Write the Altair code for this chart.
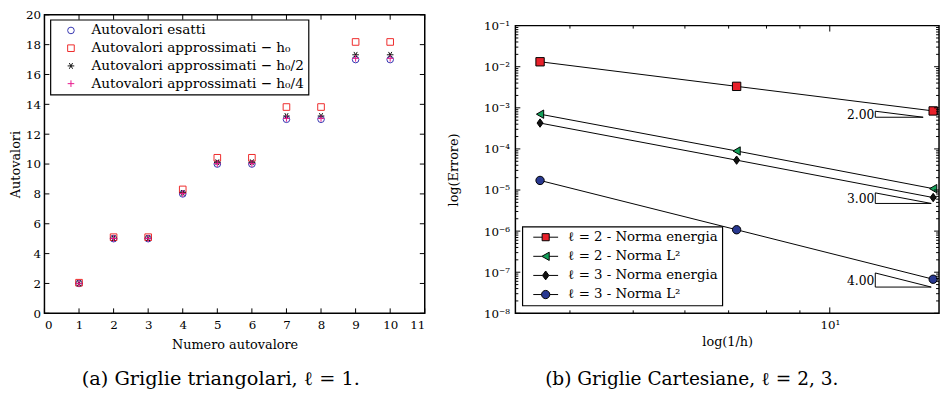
import altair as alt
import pandas as pd

FONT = "DejaVu Serif"

# ---------------- panel (a): Griglie triangolari ----------------
numero_autovalore = [1, 2, 3, 4, 5, 6, 7, 8, 9, 10]
autovalori_esatti = [2, 5, 5, 8, 10, 10, 13, 13, 17, 17]
approx_h0 = [2.05, 5.1, 5.1, 8.3, 10.42, 10.42, 13.82, 13.82, 18.18, 18.18]
approx_h0_2 = [2.01, 5.03, 5.03, 8.07, 10.12, 10.12, 13.22, 13.22, 17.32, 17.32]
approx_h0_4 = [2.0, 5.01, 5.01, 8.02, 10.03, 10.03, 13.06, 13.06, 17.08, 17.08]
serie_a = [
    "Autovalori esatti",
    "Autovalori approssimati − h₀",
    "Autovalori approssimati − h₀/2",
    "Autovalori approssimati − h₀/4",
]
colori_a = ["#3535b0", "#ee2a2a", "#111111", "#e8188c"]
ASTERISCO = "M-1,0L1,0M-0.5,-0.87L0.5,0.87M-0.5,0.87L0.5,-0.87"
PIU = "M-1,0L1,0M0,-1L0,1"
forme_a = ["circle", "square", ASTERISCO, PIU]
ticks_a_x = list(range(0, 12))
ticks_a_y = list(range(0, 21, 2))

# ---------------- panel (b): Griglie Cartesiane ----------------
inv_h = [3.6, 7.2, 14.4]
err_l2_energia = [1.32e-2, 3.33e-3, 8.4e-4]
err_l2_L2 = [7.0e-4, 8.9e-5, 1.08e-5]
err_l3_energia = [4.26e-4, 5.33e-5, 6.56e-6]
err_l3_L2 = [1.71e-5, 1.08e-6, 6.75e-8]
serie_b = [
    "ℓ = 2 - Norma energia",
    "ℓ = 2 - Norma L²",
    "ℓ = 3 - Norma energia",
    "ℓ = 3 - Norma L²",
]
colori_b = ["#e8202a", "#14a05a", "#111111", "#283890"]
forme_b = ["square", "triangle-left", "M0,-1L0.72,0L0,1L-0.72,0Z", "circle"]
legenda_b = [
    "M-2.1,0L-0.6,0M0.6,0L2.1,0M-0.6,-0.6L0.6,-0.6L0.6,0.6L-0.6,0.6Z",
    "M-2.1,0L-0.65,0M0.6,0L2.1,0M-0.65,0L0.6,-0.7L0.6,0.7Z",
    "M-2.1,0L-0.55,0M0.55,0L2.1,0M0,-0.75L0.55,0L0,0.75L-0.55,0Z",
    "M-2.1,0L-0.7,0M0.7,0L2.1,0M-0.7,0A0.7,0.7 0 1,0 0.7,0A0.7,0.7 0 1,0 -0.7,0Z",
]
pendenze = ["2.00", "3.00", "4.00"]
ordini = [2, 3, 4]
tri_x_sx = [11.74, 11.74, 11.74]
tri_x_dx = [13.9, 14.3, 14.3]
tri_base = [5.9e-4, 4.71e-6, 4.35e-8]
ticks_b_x_major = [10]
ticks_b_x_minor = [4, 5, 6, 7, 8, 9]
ticks_b_y_major = [10.0 ** e for e in range(-8, 0)]
ticks_b_y_minor = [k * 10.0 ** e for e in range(-8, -1) for k in range(2, 10)]

WA, HA = 386, 303
WB, HB = 430, 292
TL_MAJ, TL_MIN = 5, 3

# ---------------- panel (a) ----------------
rows_a = []
for s, vals in zip(serie_a, [autovalori_esatti, approx_h0, approx_h0_2, approx_h0_4]):
    for n, v in zip(numero_autovalore, vals):
        rows_a.append({"n": n, "v": v, "serie": s})
df_a = pd.DataFrame(rows_a)

xa = alt.Scale(domain=[0, 11], nice=False, zero=False)
ya = alt.Scale(domain=[0, 20], nice=False, zero=False)
ax_xa = alt.Axis(values=ticks_a_x, title="Numero autovalore", format="d", ticks=False,
                 domain=False, grid=False, labelPadding=6, titlePadding=9)
ax_ya = alt.Axis(values=ticks_a_y, title="Autovalori", format="d", ticks=False,
                 domain=False, grid=False, labelPadding=4, titlePadding=3)

leg_a = alt.Legend(
    title=None, orient="none", legendX=6, legendY=5, padding=4,
    symbolOffset=10, labelOffset=14, rowPadding=3, labelFontSize=13.8, labelFont=FONT,
    symbolSize=45, symbolStrokeWidth=1, labelLimit=500,
)

pts_a = alt.Chart(df_a).mark_point(filled=False, size=45, strokeWidth=1, opacity=1).encode(
    x=alt.X("n:Q", scale=xa, axis=ax_xa),
    y=alt.Y("v:Q", scale=ya, axis=ax_ya),
    color=alt.Color("serie:N", scale=alt.Scale(domain=serie_a, range=colori_a), legend=leg_a),
    shape=alt.Shape("serie:N", scale=alt.Scale(domain=serie_a, range=forme_a), legend=leg_a),
)


def tick_rules(values, length, scale, axis, channel, side, W, H):
    d = pd.DataFrame({"t": values})
    c = alt.Chart(d).mark_rule(color="black", strokeWidth=1)
    if channel == "x":
        enc = dict(x=alt.X("t:Q", scale=scale, axis=axis))
        if side == "bottom":
            enc.update(y=alt.value(H), y2=alt.value(H - length))
        else:
            enc.update(y=alt.value(0), y2=alt.value(length))
    else:
        enc = dict(y=alt.Y("t:Q", scale=scale, axis=axis))
        if side == "left":
            enc.update(x=alt.value(0), x2=alt.value(length))
        else:
            enc.update(x=alt.value(W), x2=alt.value(W - length))
    return c.encode(**enc)


ticks_a = [
    tick_rules(ticks_a_x, TL_MAJ, xa, ax_xa, "x", "bottom", WA, HA),
    tick_rules(ticks_a_x, TL_MAJ, xa, ax_xa, "x", "top", WA, HA),
    tick_rules(ticks_a_y, TL_MAJ, ya, ax_ya, "y", "left", WA, HA),
    tick_rules(ticks_a_y, TL_MAJ, ya, ax_ya, "y", "right", WA, HA),
]

panel_a = alt.layer(pts_a, *ticks_a).properties(
    width=WA, height=HA,
    title=alt.TitleParams("(a) Griglie triangolari, ℓ = 1.", orient="bottom", anchor="middle",
                          dx=-14, offset=19, font=FONT, fontSize=19.6, fontWeight="normal"),
)

# ---------------- panel (b) ----------------
rows_b = []
for s, vals in zip(serie_b, [err_l2_energia, err_l2_L2, err_l3_energia, err_l3_L2]):
    for x, v in zip(inv_h, vals):
        rows_b.append({"x": x, "e": v, "serie": s})
df_b = pd.DataFrame(rows_b)

xb = alt.Scale(type="log", domain=[3.3, 14.7], nice=False)
yb = alt.Scale(type="log", domain=[1e-8, 1e-1], nice=False)
y_label_expr = ("'10' + ['⁰','⁻¹','⁻²','⁻³','⁻⁴','⁻⁵','⁻⁶','⁻⁷','⁻⁸']"
                "[round(-log(datum.value)/LN10)]")
ax_xb = alt.Axis(values=ticks_b_x_major, labelExpr="'10¹'", title="log(1/h)", ticks=False,
                 domain=False, grid=False, labelPadding=6, titlePadding=6)
ax_yb = alt.Axis(values=ticks_b_y_major, labelExpr=y_label_expr, title="log(Errore)", ticks=False,
                 domain=False, grid=False, labelPadding=6, titlePadding=23)

lines_b = alt.Chart(df_b).mark_line(color="black", strokeWidth=1).encode(
    x=alt.X("x:Q", scale=xb, axis=ax_xb),
    y=alt.Y("e:Q", scale=yb, axis=ax_yb),
    detail="serie:N",
)

pts_b = []
for s, col, sh in zip(serie_b, colori_b, forme_b):
    pts_b.append(
        alt.Chart(df_b).transform_filter(alt.datum.serie == s).mark_point(
            filled=True, size=72, fill=col, shape=sh, stroke="black", strokeWidth=1, opacity=1
        ).encode(
            x=alt.X("x:Q", scale=xb, axis=ax_xb),
            y=alt.Y("e:Q", scale=yb, axis=ax_yb),
        )
    )

leg_b = alt.Legend(
    title=None, orient="none", legendX=7, legendY=215, padding=4,
    symbolOffset=13, labelOffset=16, rowPadding=4.4, labelFontSize=13.5, labelFont=FONT,
    symbolSize=144, symbolStrokeWidth=1, labelLimit=500,
)
legend_layer_b = alt.Chart(df_b).transform_filter("false").mark_point(
    filled=True, opacity=1, strokeWidth=1
).encode(
    x=alt.X("x:Q", scale=xb, axis=ax_xb),
    y=alt.Y("e:Q", scale=yb, axis=ax_yb),
    stroke=alt.value("black"),
    fill=alt.Fill("serie:N", scale=alt.Scale(domain=serie_b, range=colori_b), legend=leg_b),
    shape=alt.Shape("serie:N", scale=alt.Scale(domain=serie_b, range=legenda_b), legend=leg_b),
)

edges = []
labels = []
for lab, p, xl, xr, yb0 in zip(pendenze, ordini, tri_x_sx, tri_x_dx, tri_base):
    ytop = yb0 * (xr / xl) ** p
    edges.append({"x": xl, "x2": xl, "y": yb0, "y2": ytop})
    edges.append({"x": xl, "x2": xr, "y": yb0, "y2": yb0})
    edges.append({"x": xl, "x2": xr, "y": ytop, "y2": yb0})
    labels.append({"x": xl, "y": (yb0 * ytop) ** 0.5, "t": lab})
df_edges = pd.DataFrame(edges)
df_lab = pd.DataFrame(labels)

tri_b = alt.Chart(df_edges).mark_rule(color="black", strokeWidth=1).encode(
    x=alt.X("x:Q", scale=xb, axis=ax_xb), x2="x2:Q",
    y=alt.Y("y:Q", scale=yb, axis=ax_yb), y2="y2:Q",
)
tri_txt = alt.Chart(df_lab).mark_text(align="right", baseline="middle", dx=-1, dy=1,
                                       font=FONT, fontSize=12.5, color="black").encode(
    x=alt.X("x:Q", scale=xb, axis=ax_xb),
    y=alt.Y("y:Q", scale=yb, axis=ax_yb),
    text="t:N",
)

ticks_b = []
for side in ["bottom", "top"]:
    ticks_b.append(tick_rules(ticks_b_x_major, TL_MAJ + 1, xb, ax_xb, "x", side, WB, HB))
    ticks_b.append(tick_rules(ticks_b_x_minor, TL_MIN, xb, ax_xb, "x", side, WB, HB))
for side in ["left", "right"]:
    ticks_b.append(tick_rules(ticks_b_y_major, TL_MAJ, yb, ax_yb, "y", side, WB, HB))
    ticks_b.append(tick_rules(ticks_b_y_minor, TL_MIN, yb, ax_yb, "y", side, WB, HB))

panel_b = alt.layer(lines_b, tri_b, tri_txt, *pts_b, legend_layer_b, *ticks_b).properties(
    width=WB, height=HB,
    title=alt.TitleParams("(b) Griglie Cartesiane, ℓ = 2, 3.", orient="bottom", anchor="middle",
                          dx=-36, offset=22, font=FONT, fontSize=18.8, fontWeight="normal"),
)

spacer = alt.Chart(pd.DataFrame({"s": [0]})).mark_point(opacity=0).encode(
    x=alt.value(0), y=alt.value(0)
).properties(width=WB, height=1, view=alt.ViewBackground(stroke="transparent"))

col_b = alt.vconcat(spacer, panel_b, spacing=0)

chart = alt.hconcat(panel_a, col_b, spacing=20).resolve_scale(
    color="independent", fill="independent", shape="independent"
).properties(padding={"left": 0, "top": -3, "right": 0, "bottom": 0}).configure_view(
    stroke="black", strokeWidth=1.5
).configure_axis(
    labelFont=FONT, labelFontSize=12, labelColor="black",
    titleFont=FONT, titleFontSize=13, titleFontWeight="normal", titleColor="black",
).configure_legend(
    strokeColor="black", strokeWidth=1.2, fillColor="white", cornerRadius=0,
    labelFont=FONT, labelColor="black",
).configure_title(
    font=FONT, fontSize=18.8, fontWeight="normal", color="black",
)

chart.save("out.html", embed_options={"renderer": "svg", "actions": False})
